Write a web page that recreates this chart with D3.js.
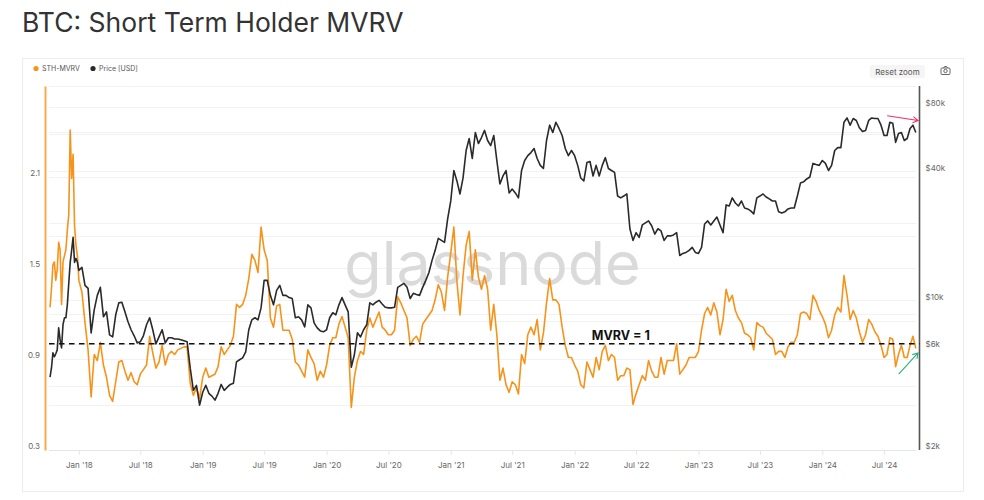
<!DOCTYPE html>
<html><head><meta charset="utf-8">
<script src="https://cdn.jsdelivr.net/npm/d3@7"></script>
<style>
html,body{margin:0;padding:0;background:#fff;overflow:hidden}
svg{display:block}
text{font-family:Inter,"Noto Sans",sans-serif}
</style></head><body>
<svg id="chart" width="984" height="500"></svg>
<script>
const titleText = "BTC: Short Term Holder MVRV";
const seriesNames = ["STH-MVRV", "Price [USD]"];
const seriesColors = ["#f7931a", "#2a2a2a"];
const periodBounds = ["2017-10-08","2018-01-01","2018-07-01","2019-01-01","2019-07-01","2020-01-01","2020-07-01","2021-01-01","2021-07-01","2022-01-01","2022-07-01","2023-01-01","2023-07-01","2024-01-01","2024-07-01","2024-10-11"];
const xTickDates = ["2018-01-01","2018-07-01","2019-01-01","2019-07-01","2020-01-01","2020-07-01","2021-01-01","2021-07-01","2022-01-01","2022-07-01","2023-01-01","2023-07-01","2024-01-01","2024-07-01"];
const leftTickValues = [0.3,0.9,1.5,2.1];
const leftGridValues = [0.6,0.9,1,1.2,1.5,1.8,2.1,2.4,2.7];
const rightTickValues = [2000,6000,10000,40000,80000];
const rightGridValues = [4000,8000,10000,20000,40000,60000,80000];
const mvrvLevel = 1;

const mvrv2017Q4 = [1.24,1.36,1.52,1.54,1.42,1.49,1.67,1.62,1.26,1.54,1.58,1.62,1.75,1.85,2.41,2.09,2.25,1.78,1.65,1.58];
const mvrv2018H1 = [1.42,1.34,1.14,.96,.65,.93,.89,1.01,.86,.78,.66,.62,.75,.88,.89,.82,.76,.81,.75,.73];
const mvrv2018H2 = [.80,.83,.86,1.05,.94,.84,.88,.99,.86,.93,.95,.93,.96,.97,.98,.98,.74,.66,.71,.64];
const mvrv2019H1 = [.78,.84,.78,.79,.80,.85,.98,.93,.96,.99,1.05,1.26,1.24,1.26,1.32,1.43,1.59,1.55,1.47,1.77];
const mvrv2019H2 = [1.62,1.55,1.17,1.11,1.25,1.26,1.09,1.09,1.09,1.03,.88,.86,.82,.78,.96,.91,.87,.76,.82,.78];
const mvrv2020H1 = [.86,.99,1.04,1.04,1.13,1.18,1.11,1.04,.58,.78,.89,.95,.93,1.09,1.17,1.11,1.16,1.21,1.11,1.09];
const mvrv2020H2 = [1.06,1.06,1.09,1.31,1.27,1.22,1.17,.99,1.03,1.05,1.01,1.13,1.16,1.19,1.22,1.29,1.39,1.34,1.22,1.44];
const mvrv2021H1 = [1.60,1.77,1.41,1.19,1.45,1.65,1.74,1.42,1.62,1.44,1.36,1.45,1.36,1.09,1.26,1.06,.76,.84,.73,.68];
const mvrv2021H2 = [.75,.73,.67,.93,.87,1.06,1.11,1.06,1.16,.96,1.07,1.27,1.43,1.29,1.29,1.26,1.11,.99,.91,.91];
const mvrv2022H1 = [.86,.82,.73,.71,.88,.83,.78,.91,.83,.95,.99,.89,.93,.91,.76,.79,.79,.84,.83,.60];
const mvrv2022H2 = [.67,.73,.79,.76,.89,.82,.78,.78,.91,.80,.89,.89,.89,1.00,.80,.83,.86,.91,.91,.91];
const mvrv2023H1 = [.95,1.09,1.20,1.24,1.19,1.27,1.21,1.06,1.16,1.36,1.28,1.32,1.22,1.17,1.14,1.07,1.06,1.04,.96,1.14];
const mvrv2023H2 = [1.12,1.11,1.07,1.05,1.03,.93,.95,.95,.91,.98,1.01,1.01,1.06,1.20,1.21,1.20,1.16,1.32,1.28,1.22];
const mvrv2024H1 = [1.18,1.13,1.04,1.09,1.19,1.24,1.21,1.45,1.32,1.16,1.22,1.17,1.08,1.01,1.06,1.16,1.13,1.08,1.05,.99];
const mvrv2024H2 = [.91,.93,1.04,1.03,.85,.93,.99,.91,.91,.99,1.05,.97];

const price2017Q4 = [4380,4820,5690,5450,5630,5870,7440,6540,6000,7690,8290,8290,9530,12000,15050,17100,19700,15050,15700,15050];
const price2018H1 = [13800,14260,11750,11370,7050,9030,10550,11500,8380,8840,6900,6750,8560,9730,9800,8840,7940,7290,6830,6330];
const price2018H2 = [6400,6830,7690,8290,7290,6260,6750,7290,6330,6690,6690,6600,6600,6540,6470,6400,4820,3800,4010,3240];
const price2019H1 = [3720,4010,3680,3570,3420,3680,4050,3800,3930,4050,4100,5160,5280,5390,5750,7290,8110,8290,8110,9220];
const price2019H2 = [12400,12400,10550,9530,11130,11750,10550,10550,10300,10200,8290,8380,8110,7520,9530,9220,7850,7440,7200,7130];
const price2020H1 = [7290,8290,8750,8560,9530,10300,9530,8840,4870,5570,7050,6750,7290,7690,9730,9530,9800,10000,9620,9280];
const price2020H2 = [9220,9220,9280,11500,11750,12000,11500,10200,10780,10650,10550,11500,12400,13500,15370,17120,19470,19060,18650,24000];
const price2021H1 = [29140,40400,36120,31400,37300,50100,57000,46000,60800,54000,57600,62200,55800,52800,58900,45000,35000,38100,40400,31760];
const price2021H2 = [33100,31760,30100,40400,45000,47400,49000,51200,46000,42700,41300,55800,65800,60800,67900,63500,58900,51200,47400,50100];
const price2022H1 = [47400,42700,37300,36100,44000,44500,38100,42700,38100,42700,46400,41300,40400,39600,30700,30100,30700,31400,21600,19060];
const price2022H2 = [20700,19700,22500,23000,23500,22300,20400,21600,21100,19060,20000,20000,20200,20700,16200,16570,16750,17120,17680,16750];
const price2023H1 = [16570,17680,22740,23500,22500,23500,24500,22500,20700,27920,27600,30100,28500,27600,29100,27000,26740,26180,25340,30100];
const price2023H2 = [30700,31400,30400,29760,29100,29100,25900,25600,25900,26740,27000,27000,30700,35360,35780,36900,37700,43600,43100,42700];
const price2024H1 = [45000,43600,40400,42700,50100,51700,51700,67900,71100,65800,70700,69200,64000,61500,62200,69200,71100,70700,70700,65800];
const price2024H2 = [58900,58900,67900,67200,54700,60200,60800,55800,57000,63500,65800,60800];

const mvrvPeriods = [mvrv2017Q4,mvrv2018H1,mvrv2018H2,mvrv2019H1,mvrv2019H2,mvrv2020H1,mvrv2020H2,mvrv2021H1,mvrv2021H2,mvrv2022H1,mvrv2022H2,mvrv2023H1,mvrv2023H2,mvrv2024H1,mvrv2024H2];
const pricePeriods = [price2017Q4,price2018H1,price2018H2,price2019H1,price2019H2,price2020H1,price2020H2,price2021H1,price2021H2,price2022H1,price2022H2,price2023H1,price2023H2,price2024H1,price2024H2];

const parse = d3.utcParse("%Y-%m-%d");
const spread = periods => periods.flatMap((vals, k) => {
  const a = +parse(periodBounds[k]), b = +parse(periodBounds[k + 1]);
  return vals.map((v, i) => ({date: new Date(a + (b - a) * i / vals.length), value: v}));
});
const mvrvData = spread(mvrvPeriods);
const priceData = spread(pricePeriods);

const L = 49, R = 916, T = 86, B = 450, axisL = 45, axisR = 919.5;
const x = d3.scaleUtc().domain([parse("2017-10-05"), parse("2024-10-03")]).range([L, R]);
const yL = d3.scaleLinear().domain([0.3, 2.7]).range([B, T]);
const yR = d3.scaleLog().domain([2000, 80000]).range([B, 107]);

const svg = d3.select("#chart");
svg.append("text").attr("x", 22).attr("y", 31.5).attr("font-size", 26.5).attr("font-weight", 400).attr("fill", "#333").text(titleText);
svg.append("rect").attr("x", 22.5).attr("y", 58.5).attr("width", 941).attr("height", 433).attr("fill", "#fff").attr("stroke", "#ececec");

// legend
const lg = svg.append("g").attr("transform", "translate(36,68.5)");
[0, 1].forEach(i => {
  const dx = [0, 57][i];
  lg.append("circle").attr("cx", dx).attr("cy", 0).attr("r", 2.6).attr("fill", seriesColors[i]);
  lg.append("text").attr("x", dx + 6).attr("y", 2.5).attr("font-size", 7).attr("fill", "#555").text(seriesNames[i]);
});

// reset / camera
svg.append("rect").attr("x", 870).attr("y", 65).attr("width", 55).attr("height", 13).attr("rx", 2).attr("fill", "#f5f5f6");
svg.append("text").attr("x", 897.5).attr("y", 74.5).attr("text-anchor", "middle").attr("font-size", 8).attr("fill", "#555").text("Reset zoom");
const cam = svg.append("g").attr("transform", "translate(945.5,71)").attr("fill", "none").attr("stroke", "#666");
cam.append("rect").attr("x", -4.5).attr("y", -3).attr("width", 9).attr("height", 6.5).attr("rx", 1);
cam.append("circle").attr("r", 1.7);
cam.append("path").attr("d", "M-2,-3 L-1,-4.5 L1,-4.5 L2,-3");

// grid
const grid = svg.append("g").attr("stroke", "#f2f2f2").attr("stroke-width", 1);
const gridLine = y => grid.append("line").attr("x1", L).attr("x2", R).attr("y1", Math.round(y) + .5).attr("y2", Math.round(y) + .5);
leftGridValues.forEach(v => gridLine(yL(v)));
rightGridValues.forEach(v => gridLine(yR(v)));

// watermark
svg.append("text").attr("x", 492.5).attr("y", 285).attr("text-anchor", "middle").attr("font-size", 61).attr("font-weight", 400).attr("fill", "#dadada").attr("font-family", "Lato,Inter,sans-serif").text("glassnode");

// axes
const gx = svg.append("g").attr("transform", `translate(0,${B})`)
  .call(d3.axisBottom(x).tickValues(xTickDates.map(parse)).tickFormat(d3.utcFormat("%b '%y")).tickSize(5).tickPadding(7));
gx.select(".domain").attr("stroke", "#e6e6e6").attr("d", `M${L},0.5H${R}`);
gx.selectAll("line").attr("stroke", "#e6e6e6");
gx.selectAll("text").attr("font-size", 8).attr("fill", "#666").attr("font-family", "Inter,sans-serif");

const gl = svg.append("g").attr("transform", `translate(${axisL},0)`)
  .call(d3.axisLeft(yL).tickValues(leftTickValues).tickFormat(d3.format(".1f")).tickSize(0).tickPadding(5));
gl.select(".domain").attr("stroke", "#f9a94d").attr("stroke-width", 2);
gl.selectAll("text").attr("font-size", 8).attr("fill", "#666").attr("dy", "-0.2em").attr("font-family", "Inter,sans-serif");

const gr = svg.append("g").attr("transform", `translate(${axisR},0)`)
  .call(d3.axisRight(yR).tickValues(rightTickValues).tickFormat(d => "$" + d / 1000 + "k").tickSize(0).tickPadding(6));
gr.select(".domain").attr("stroke", "#555").attr("stroke-width", 1.6).attr("d", `M0,${T}V${B}`);
gr.selectAll("text").attr("font-size", 8).attr("fill", "#666").attr("dy", "-0.15em").attr("font-family", "Inter,sans-serif");

// lines
svg.append("path").datum(mvrvData).attr("fill", "none").attr("stroke", seriesColors[0]).attr("stroke-width", 1.6).attr("stroke-linejoin", "round")
  .attr("d", d3.line().x(d => x(d.date)).y(d => yL(d.value)));
svg.append("path").datum(priceData).attr("fill", "none").attr("stroke", seriesColors[1]).attr("stroke-width", 1.6).attr("stroke-linejoin", "round")
  .attr("d", d3.line().x(d => x(d.date)).y(d => yR(d.value)));

// MVRV = 1 line and label
svg.append("line").attr("x1", L).attr("x2", axisR).attr("y1", yL(mvrvLevel)).attr("y2", yL(mvrvLevel))
  .attr("stroke", "#111").attr("stroke-width", 1.5).attr("stroke-dasharray", "5.5,4.5");
svg.append("text").attr("x", x(parse("2022-05-17"))).attr("y", yL(mvrvLevel) - 3.5).attr("text-anchor", "middle")
  .attr("font-size", 12.5).attr("font-weight", 700).attr("fill", "#111").text("MVRV = 1");

// arrows
const arrow = (x1, y1, x2, y2, color) => {
  const a = Math.atan2(y2 - y1, x2 - x1), h = 6;
  svg.append("path").attr("fill", "none").attr("stroke", color).attr("stroke-width", 1.1)
    .attr("d", `M${x1},${y1}L${x2},${y2}M${x2 - h * Math.cos(a - .55)},${y2 - h * Math.sin(a - .55)}L${x2},${y2}L${x2 - h * Math.cos(a + .55)},${y2 - h * Math.sin(a + .55)}`);
};
arrow(x(parse("2024-07-10")), yR(72800), x(parse("2024-10-09")), yR(69200), "#ee2f6b");
arrow(x(parse("2024-08-13")), yL(0.80), x(parse("2024-10-09")), yL(0.94), "#2bb07b");
</script>
</body></html>
